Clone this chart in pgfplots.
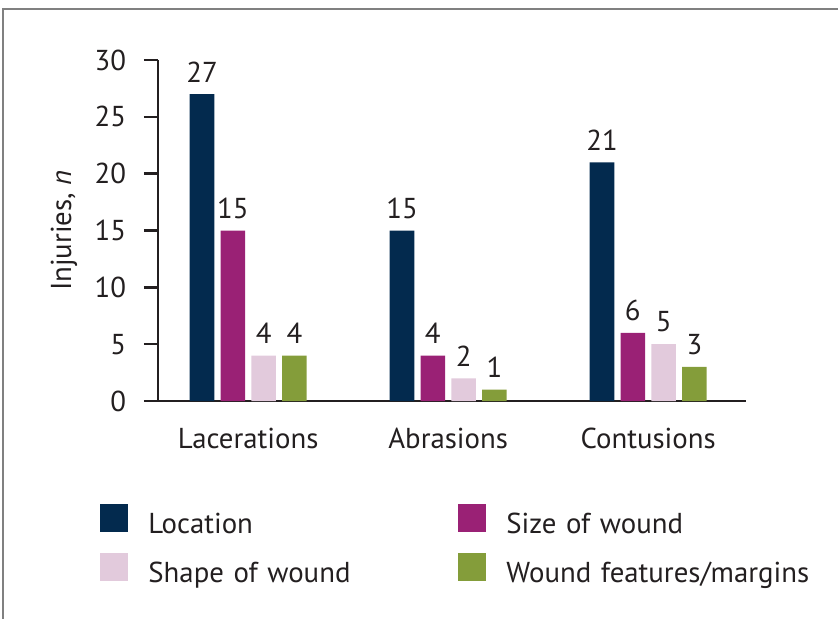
\documentclass[border=0pt]{standalone}
\usepackage{pgfplots}
\pgfplotsset{compat=1.18}
\usepackage{fontspec}
\setmainfont{PT Sans}
\definecolor{navy}{HTML}{032A4E}
\definecolor{mag}{HTML}{9A2175}
\definecolor{pinkish}{HTML}{E2CADC}
\definecolor{olive}{HTML}{849D3A}
\definecolor{txt}{HTML}{231F20}
\pgfplotstableread{
x loc size shape feat
0 27 15 4 4
1 15 4 2 1
2 21 6 5 3
}\datatab
\newcommand\fs{\fontsize{14.4}{17}\selectfont}
\begin{document}
\fs
\begin{tikzpicture}
\useasboundingbox (-79pt,-108.5pt) rectangle (340pt,200.5pt);
\draw[black!50, line width=0.8pt] (-77.5pt,-110pt) -- (-77.5pt,196pt) -- (342pt,196pt);
\begin{axis}[
  at={(0pt,0pt)}, anchor=south west,
  scale only axis, width=294pt, height=170.5pt,
  xmin=-0.451, xmax=2.489, ymin=0, ymax=30,
  axis x line*=bottom, axis y line*=left,
  axis line style={txt, line width=1.2pt, -},
  ytick={0,5,...,30},
  xtick={0,1,2}, xticklabels={Lacerations,Abrasions,Contusions},
  x tick style={draw=none},
  y tick style={txt, line width=1.2pt},
  tick align=outside, major tick length=7pt,
  /pgf/number format/assume math mode=true,
  ticklabel style={font=\fs, text=txt},
  yticklabel style={xshift=-4pt},
  xticklabel style={yshift=-1.5pt},
  ylabel={Injuries, \textit{n}},
  every axis y label/.style={at={(axis description cs:-0.16,0.5)}, rotate=90, anchor=center, font=\fs, text=txt},
  ybar=3.1pt, bar width=12.3pt,
  nodes near coords,
  every node near coord/.append style={font=\fs, text=txt, yshift=1pt},
  legend columns=2,
  legend image code/.code={\fill[#1] (0pt,-3pt) rectangle (14pt,11pt);},
  legend style={draw=none, fill=none, inner sep=0pt, anchor=north west,
    at={(axis description cs:-0.0986,-0.302)},
    font=\fs, text=txt,
    nodes={inner sep=0pt, text width=155pt, align=left, text height=10pt, text depth=3pt},
    /tikz/every odd column/.append style={column sep=10pt},
    row sep=7pt},
]
\addplot[fill=navy, draw=none] table[x=x, y=loc] {\datatab};
\addplot[fill=mag, draw=none] table[x=x, y=size] {\datatab};
\addplot[fill=pinkish, draw=none] table[x=x, y=shape] {\datatab};
\addplot[fill=olive, draw=none] table[x=x, y=feat] {\datatab};
\legend{Location, Size of wound, Shape of wound, Wound features/margins}
\end{axis}
\end{tikzpicture}
\end{document}
